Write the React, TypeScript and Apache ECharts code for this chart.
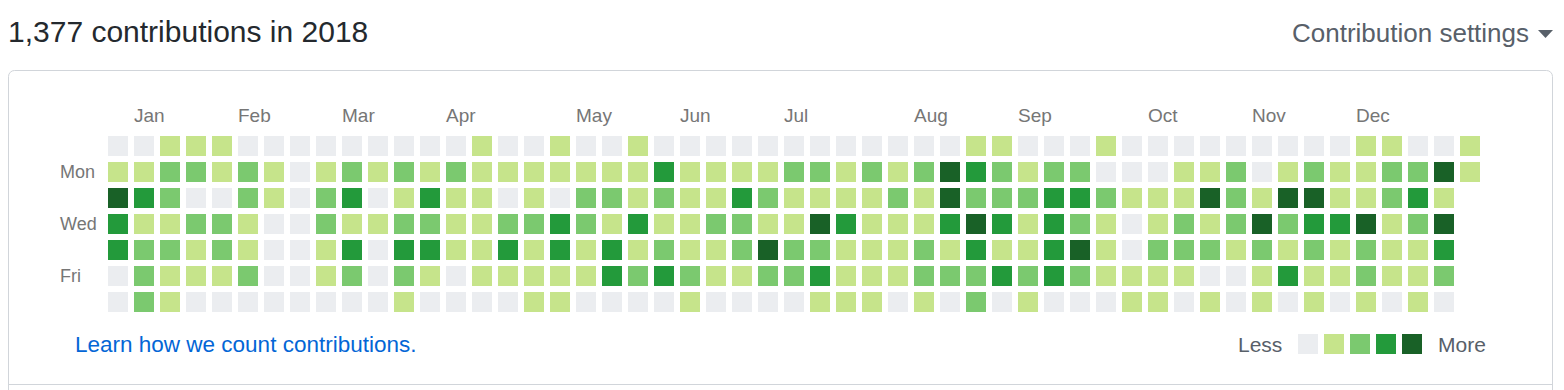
import React, { useEffect, useRef } from "react";
import * as echarts from "echarts";

const title = "1,377 contributions in 2018";
const dayNames = ["Sun", "Mon", "Tue", "Wed", "Thu", "Fri", "Sat"];
const shownDays = ["Mon", "Wed", "Fri"];
const monthNames = ["Jan", "Feb", "Mar", "Apr", "May", "Jun", "Jul", "Aug", "Sep", "Oct", "Nov", "Dec"];
const monthStartWeeks = [1, 5, 9, 13, 18, 22, 26, 31, 35, 40, 44, 48];
const levelColors = ["#ebedf0", "#c6e48b", "#7bc96f", "#239a3b", "#196127"];
const legendEnds = ["Less", "More"];

// one array per week, Sun..Sat, contribution level 0-4
const weekLevels: number[][] = [
  [0, 1, 4, 3, 3, 0, 0],
  [0, 1, 3, 1, 2, 2, 2],
  [1, 2, 2, 1, 2, 1, 1],
  [1, 2, 0, 2, 1, 1, 0],
  [1, 1, 0, 2, 2, 1, 0],
  [0, 2, 2, 1, 1, 2, 0],
  [0, 1, 1, 0, 0, 0, 0],
  [0, 0, 0, 0, 0, 0, 0],
  [0, 1, 2, 2, 1, 1, 0],
  [0, 2, 3, 1, 3, 2, 0],
  [0, 1, 0, 1, 0, 0, 0],
  [0, 2, 1, 2, 3, 2, 1],
  [0, 1, 3, 2, 3, 1, 0],
  [0, 2, 1, 1, 1, 0, 0],
  [1, 1, 1, 1, 1, 1, 0],
  [0, 1, 0, 2, 3, 1, 0],
  [0, 1, 1, 2, 1, 1, 1],
  [1, 1, 0, 3, 3, 1, 1],
  [0, 1, 2, 2, 1, 1, 0],
  [0, 1, 2, 1, 3, 3, 0],
  [1, 1, 1, 3, 1, 2, 0],
  [0, 3, 2, 1, 2, 3, 0],
  [0, 1, 1, 1, 1, 2, 1],
  [0, 1, 1, 2, 1, 1, 0],
  [0, 1, 3, 2, 2, 1, 0],
  [0, 1, 2, 1, 4, 2, 0],
  [0, 2, 1, 1, 2, 2, 0],
  [0, 2, 1, 4, 2, 3, 1],
  [0, 1, 1, 3, 1, 1, 1],
  [0, 2, 1, 1, 1, 1, 1],
  [0, 1, 2, 1, 1, 1, 0],
  [0, 2, 1, 1, 2, 2, 1],
  [0, 4, 4, 3, 1, 2, 0],
  [1, 3, 2, 4, 3, 2, 2],
  [1, 2, 2, 3, 1, 3, 0],
  [0, 1, 2, 1, 1, 2, 1],
  [0, 2, 3, 3, 3, 3, 0],
  [0, 2, 3, 2, 4, 2, 0],
  [1, 0, 2, 1, 1, 1, 0],
  [0, 0, 1, 0, 0, 1, 1],
  [0, 0, 1, 1, 2, 1, 1],
  [0, 1, 1, 2, 2, 1, 0],
  [0, 1, 4, 1, 2, 0, 1],
  [0, 2, 2, 2, 1, 0, 0],
  [0, 0, 1, 4, 2, 1, 1],
  [0, 1, 4, 2, 1, 3, 0],
  [0, 2, 4, 3, 2, 1, 1],
  [0, 1, 1, 3, 1, 1, 0],
  [1, 1, 1, 4, 2, 2, 1],
  [1, 2, 2, 1, 1, 1, 0],
  [0, 2, 3, 2, 1, 1, 1],
  [0, 4, 1, 4, 3, 2, 0],
  [1, 1],
];

const FONT = "'Liberation Sans', Arial, sans-serif";

export default function App() {
  const ref = useRef<HTMLDivElement>(null);
  useEffect(() => {
    document.body.style.margin = "0";
    const chart = echarts.init(ref.current!, null, { renderer: "svg" });
    const weeks = weekLevels.map((_, i) => "w" + i);
    const boundaries = Array.from({ length: weekLevels.length + 1 }, (_, i) => "b" + i);
    const data: number[][] = [];
    weekLevels.forEach((col, w) => col.forEach((lv, d) => data.push([w, d, lv])));
    const pitch = 26;
    const gridLeft = 105;
    const gridTop = 133;
    const gridW = weekLevels.length * pitch;
    const gridH = 7 * pitch;
    const legendStyle = { fontFamily: FONT, fontSize: 21, fill: "#586069", textVerticalAlign: "middle" };
    chart.setOption({
      animation: false,
      title: {
        text: title,
        left: 3,
        top: 11,
        textStyle: { fontFamily: FONT, fontSize: 30, fontWeight: "normal", color: "#24292e" },
      },
      grid: [
        { left: gridLeft, top: gridTop, width: gridW, height: gridH },
        { left: gridLeft + 3, top: gridTop, width: gridW, height: gridH },
      ],
      xAxis: [
        {
          type: "category",
          gridIndex: 0,
          data: weeks,
          axisLine: { show: false },
          axisTick: { show: false },
          axisLabel: { show: false },
          splitLine: { show: false },
        },
        {
          type: "category",
          gridIndex: 1,
          position: "top",
          boundaryGap: false,
          data: boundaries,
          axisLine: { show: false },
          axisTick: { show: false },
          splitLine: { show: false },
          axisLabel: {
            interval: 0,
            align: "left",
            verticalAlign: "middle",
            margin: 18,
            fontFamily: FONT,
            fontSize: 19,
            color: "#767676",
            formatter: (_v: string, i: number) => {
              const k = monthStartWeeks.indexOf(i);
              return k >= 0 ? monthNames[k] : "";
            },
          },
        },
      ],
      yAxis: [
        {
          type: "category",
          gridIndex: 0,
          inverse: true,
          data: dayNames,
          axisLine: { show: false },
          axisTick: { show: false },
          splitLine: { show: false },
          axisLabel: {
            interval: 0,
            align: "left",
            margin: 45,
            fontFamily: FONT,
            fontSize: 18,
            color: "#767676",
            formatter: (v: string) => (shownDays.includes(v) ? v : ""),
          },
        },
        { type: "value", gridIndex: 1, show: false },
      ],
      visualMap: {
        type: "piecewise",
        dimension: 2,
        orient: "horizontal",
        left: 1283,
        top: 319,
        itemWidth: 20,
        itemHeight: 20,
        itemGap: 6,
        itemSymbol: "rect",
        showLabel: false,
        selectedMode: false,
        pieces: levelColors.map((c, i) => ({ value: i, color: c })),
        seriesIndex: 0,
      },
      series: [
        {
          type: "scatter",
          xAxisIndex: 0,
          yAxisIndex: 0,
          symbol: "rect",
          symbolSize: 20,
          data,
          itemStyle: { opacity: 1 },
          emphasis: { disabled: true },
        },
      ],
      graphic: [
        {
          type: "rect",
          shape: { x: 8.5, y: 70.5, width: 1544, height: 360, r: 6 },
          style: { fill: "none", stroke: "#d1d5da", lineWidth: 1 },
          z: -1,
        },
        {
          type: "line",
          shape: { x1: 8, y1: 384.5, x2: 1553, y2: 384.5 },
          style: { stroke: "#d1d5da", lineWidth: 1 },
        },
        {
          type: "text",
          x: 1292,
          y: 33,
          style: {
            text: "Contribution settings",
            fontFamily: FONT,
            fontSize: 26,
            fill: "#586069",
            textVerticalAlign: "middle",
          },
        },
        {
          type: "polygon",
          shape: { points: [[1538, 30], [1553, 30], [1545.5, 38]] },
          style: { fill: "#586069" },
        },
        {
          type: "text",
          x: 75,
          y: 344,
          style: {
            text: "Learn how we count contributions.",
            fontFamily: FONT,
            fontSize: 22.5,
            fill: "#0366d6",
            textVerticalAlign: "middle",
          },
        },
        { type: "text", x: 1238, y: 344, style: { ...legendStyle, text: legendEnds[0] } },
        { type: "text", x: 1438, y: 344, style: { ...legendStyle, text: legendEnds[1] } },
      ],
    });
    return () => chart.dispose();
  }, []);
  return <div ref={ref} style={{ width: 1564, height: 390 }} />;
}
